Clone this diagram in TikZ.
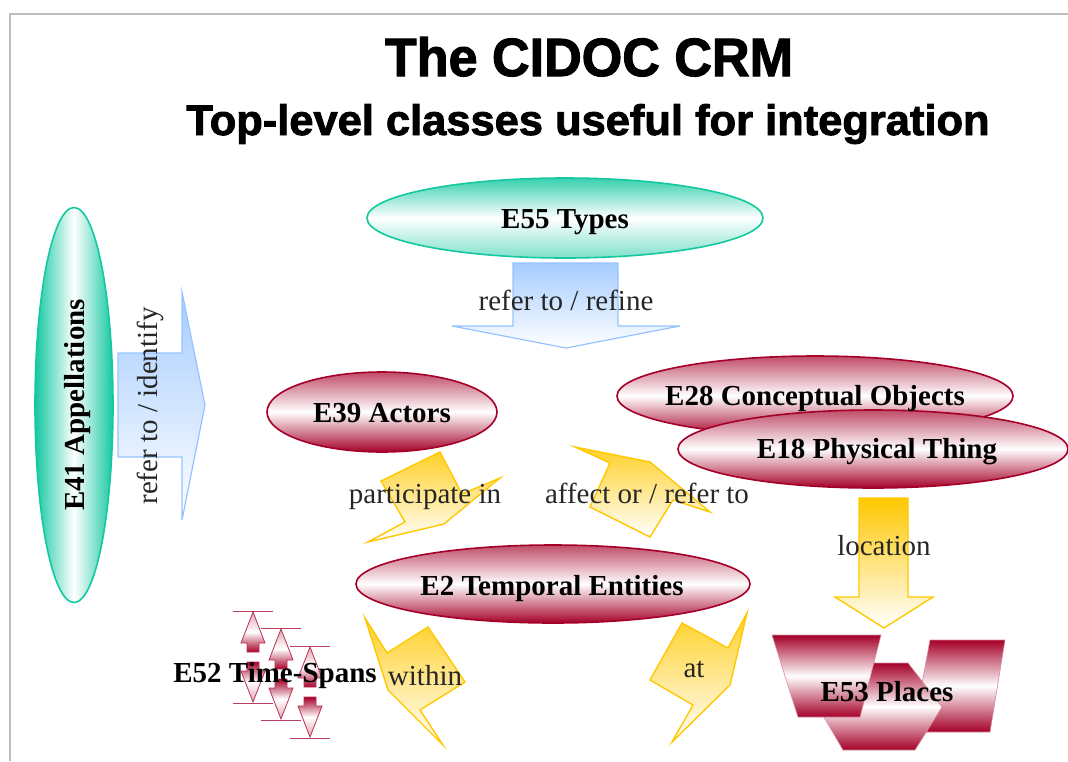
\documentclass[tikz,border=0pt]{standalone}
\usepackage{fontspec}
\usepackage{graphicx}
\setmainfont{Liberation Serif}
\newfontfamily\titlefont[BoldFeatures={FakeBold=2}]{Liberation Sans}
\usetikzlibrary{shapes.geometric}
\definecolor{crmgreen}{RGB}{20,200,160}
\definecolor{crmred}{RGB}{165,0,40}
\definecolor{crmblue}{RGB}{150,195,255}
\definecolor{crmgold}{RGB}{255,200,0}
\definecolor{framegray}{RGB}{190,190,190}

\begin{document}
\begin{tikzpicture}[x=1pt,y=-1pt,
        greenclass/.style={ellipse,draw=crmgreen,line width=1.6pt,top color=crmgreen!85,bottom color=crmgreen!55,middle color=white,inner sep=0pt},
        redclass/.style={ellipse,draw=crmred,line width=1.6pt,top color=crmred!70,bottom color=crmred,middle color=white,inner sep=0pt},
        classtext/.style={anchor=base,inner sep=0pt,font=\fontsize{29}{33}\selectfont\bfseries},
        reltext/.style={anchor=base,inner sep=0pt,text=black!85,font=\fontsize{29}{33}\selectfont},
        bluearrow/.style={draw=crmblue,line width=1.2pt,top color=crmblue!85,bottom color=white},
        bolt/.style={draw=crmgold,line width=1.4pt,top color=crmgold!85,bottom color=white},
        placeshape/.style={draw=crmred!45,line width=0.6pt,top color=crmred,bottom color=crmred,middle color=white},
        spanbar/.style={draw=crmred!75,line width=1pt},
        spanup/.style={draw=crmred!80,line width=0.8pt,top color=crmred!35,bottom color=crmred,middle color=white},
        spandown/.style={draw=crmred!80,line width=0.8pt,top color=crmred,bottom color=crmred!35,middle color=white}]
            \useasboundingbox (0,0) rectangle (1068,761);
            \draw[framegray,line width=2pt] (10,761) -- (10,14) -- (1068,14);

            \node[anchor=base,inner sep=0pt] (title) at (589,76) {\resizebox{408pt}{39pt}{\titlefont\bfseries The CIDOC CRM}};
            \node[anchor=base,inner sep=0pt] (subtitle) at (588,135) {\resizebox{803pt}{31pt}{\titlefont\bfseries Top-level classes useful for integration}};

            \begin{scope}
                \node[greenclass,minimum width=396pt,minimum height=80pt] (e55) at (565,218) {};
                \node[greenclass,minimum width=78pt,minimum height=395pt,left color=crmgreen,right color=crmgreen,middle color=white] (e41) at (74,405) {};
                \node[redclass,minimum width=230pt,minimum height=80pt] (e39) at (382,412) {};
                \node[redclass,minimum width=396pt,minimum height=80pt] (e28) at (815,396) {};
                \node[redclass,minimum width=390pt,minimum height=78pt] (e18) at (873,449) {};
                \node[redclass,minimum width=394pt,minimum height=78pt] (e2) at (553,584) {};
            \end{scope}

            \begin{scope}
                \path[bluearrow] (118,353) -- (182,353) -- (182,292) -- (205,405) -- (182,520) -- (182,457) -- (118,457) -- cycle;
                \path[bluearrow] (513,263) -- (618,263) -- (618,326) -- (680,326) -- (566,348) -- (452,326) -- (513,326) -- cycle;
                \path[bolt] (440,452) -- (462,494) -- (500,478) -- (444,524) -- (368,542) -- (405,522) -- (381,481) -- cycle;
                \path[bolt] (575,447) -- (610,463) -- (590,507) -- (650,537) -- (673,500) -- (710,512) -- (650,462) -- cycle;
                \path[bolt] (365,618) -- (387,653) -- (428,627) -- (465,682) -- (420,710) -- (443,745) -- (388,690) -- cycle;
                \path[bolt] (747,613) -- (728,648) -- (682,623) -- (650,680) -- (693,705) -- (672,742) -- (730,685) -- cycle;
                \path[bolt,top color=crmgold] (859,498) -- (908,498) -- (908,597) -- (933,597) -- (884,628) -- (835,597) -- (859,597) -- cycle;
            \end{scope}

            \begin{scope}
                \path[placeshape] (930,640) -- (1005,640) -- (990,732) -- (913,732) -- cycle;
                \path[placeshape] (872,663) -- (908,663) -- (942,707) -- (915,750) -- (843,750) -- (821,712) -- cycle;
                \path[placeshape] (772,635) -- (881,635) -- (860,717) -- (798,717) -- cycle;
            \end{scope}

            \foreach \cx/\yt in {253/611,281/628,310/646}{
                \draw[spanbar] ({\cx-20},\yt) -- ({\cx+20},\yt);
                \draw[spanbar] ({\cx-20},{\yt+92}) -- ({\cx+20},{\yt+92});
                \path[spanup] (\cx,{\yt+1}) -- ({\cx+12},{\yt+32}) -- ({\cx+6},{\yt+32}) -- ({\cx+6},{\yt+41}) -- ({\cx-6},{\yt+41}) -- ({\cx-6},{\yt+32}) -- ({\cx-12},{\yt+32}) -- cycle;
                \path[spandown] (\cx,{\yt+91}) -- ({\cx+12},{\yt+60}) -- ({\cx+6},{\yt+60}) -- ({\cx+6},{\yt+51}) -- ({\cx-6},{\yt+51}) -- ({\cx-6},{\yt+60}) -- ({\cx-12},{\yt+60}) -- cycle;
            }

            \begin{scope}
                \node[classtext] (e55lab) at (565,228) {E55 Types};
                \node[classtext,rotate=90] (e41lab) at (84,405) {E41 Appellations};
                \node[classtext] (e39lab) at (382,422) {E39 Actors};
                \node[classtext] (e28lab) at (815,405) {E28 Conceptual Objects};
                \node[classtext] (e18lab) at (877,458) {E18 Physical Thing};
                \node[classtext] (e2lab) at (552,595) {E2 Temporal Entities};
                \node[classtext] (e53lab) at (887,701) {E53 Places};
                \node[classtext] (e52lab) at (275,682) {E52 Time-Spans};

                \node[reltext,rotate=90] (identify) at (157,406) {refer to / identify};
                \node[reltext] (refine) at (566,310) {refer to / refine};
                \node[reltext] (participate) at (425,503) {participate in};
                \node[reltext] (affect) at (647,503) {affect or / refer to};
                \node[reltext] (location) at (884,555) {location};
                \node[reltext] (within) at (425,685) {within};
                \node[reltext] (at) at (694,677) {at};
            \end{scope}
        \end{tikzpicture}
\end{document}
